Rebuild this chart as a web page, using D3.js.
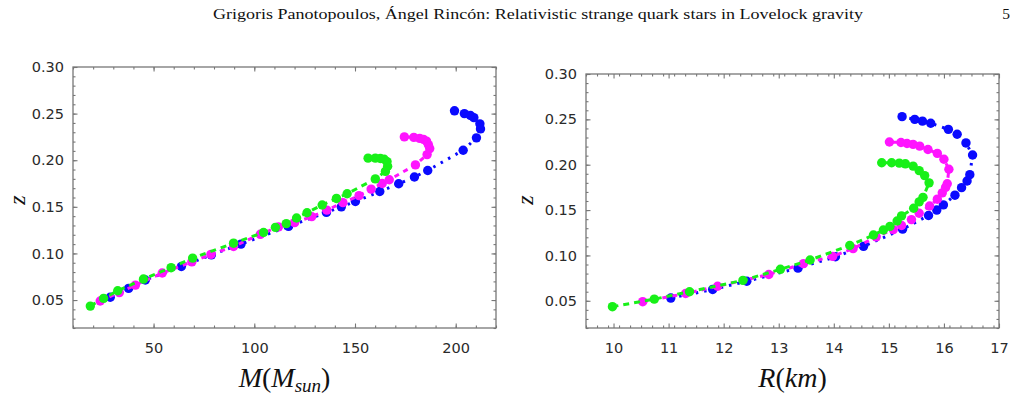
<!DOCTYPE html>
<html><head><meta charset="utf-8">
<script src="https://cdn.jsdelivr.net/npm/d3@7"></script>
<style>
html,body{margin:0;padding:0;background:#fff;}
svg{display:block;}
.tick text{font-family:"DejaVu Sans",sans-serif;font-size:14.5px;fill:#2a2a2a;}
</style></head>
<body>
<script>
// ---- data ----
const blueZ = [0.0530,0.0625,0.0715,0.0860,0.0985,0.1100,0.1290,0.1440,0.1500,0.1557,0.1664,0.1747,0.1820,0.1890,0.2107,0.2240,0.2336,0.2390,0.2457,0.2480,0.2500,0.2530];
const blueM = [28.5,37.6,45.9,63.8,78.7,93.4,117.0,135.8,143.2,150.2,162.3,171.7,179.5,186.1,203.7,210.3,212.3,212.0,209.0,207.3,204.3,199.4];
const blueR = [11.04,11.80,12.42,13.35,14.03,14.54,15.25,15.72,15.87,15.99,16.20,16.32,16.42,16.47,16.52,16.40,16.24,16.08,15.76,15.61,15.47,15.24];

const magentaZ = [0.0490,0.0580,0.0660,0.0790,0.0910,0.0990,0.1075,0.1205,0.1285,0.1330,0.1395,0.1465,0.1545,0.1620,0.1690,0.1750,0.1790,0.1950,0.2060,0.2125,0.2168,0.2205,0.2224,0.2234,0.2245,0.2250];
const magentaM = [23.5,33.0,41.0,54.3,69.0,78.5,89.7,103.0,112.0,120.0,128.5,136.0,144.0,152.0,158.0,163.5,167.0,180.0,185.8,187.1,186.4,185.5,184.0,182.1,179.2,174.5];
const magentaR = [10.53,11.31,11.89,12.82,13.45,13.98,14.35,14.77,15.08,15.23,15.41,15.55,15.74,15.88,15.97,16.03,16.06,16.09,16.00,15.88,15.71,15.56,15.44,15.33,15.22,15.01];

const greenZ = [0.0435,0.0518,0.0600,0.0725,0.0847,0.0950,0.1110,0.1225,0.1280,0.1320,0.1380,0.1436,0.1520,0.1590,0.1640,0.1800,0.1880,0.1935,0.1985,0.2010,0.2018,0.2022,0.2022];
const greenM = [18.6,25.2,32.2,45.0,58.7,69.4,89.7,104.6,110.5,115.9,121.0,126.2,133.7,140.8,146.1,160.1,165.1,166.2,165.9,164.5,162.6,160.1,156.5];
const greenR = [9.98,10.74,11.38,12.35,13.03,13.57,14.29,14.72,14.90,15.02,15.15,15.23,15.45,15.55,15.62,15.73,15.65,15.55,15.44,15.30,15.19,15.05,14.87];

const zTicks = [0.05,0.10,0.15,0.20,0.25,0.30];
const mTicks = [50,100,150,200];
const rTicks = [10,11,12,13,14,15,16,17];
const headerText = "Grigoris Panotopoulos, Ángel Rincón: Relativistic strange quark stars in Lovelock gravity";
const pageNumber = "5";

// ---- drawing ----
const svg = d3.select("body").append("svg").attr("width",1017).attr("height",409);

svg.append("text").attr("x",538).attr("y",19).attr("text-anchor","middle")
  .attr("font-family","Liberation Serif, serif").attr("font-size",15.5).attr("fill","#111")
  .attr("textLength",650).attr("lengthAdjust","spacingAndGlyphs").text(headerText);
svg.append("text").attr("x",1006).attr("y",19).attr("text-anchor","middle")
  .attr("font-family","Liberation Serif, serif").attr("font-size",15.5).attr("fill","#111").text(pageNumber);

const series = [
  {name:"blue", color:"#0a0aff", dash:"2.5,6"},
  {name:"magenta", color:"#ff14ff", dash:"5,5"},
  {name:"green", color:"#18f018", dash:"6,5"}
];
const dataZ = {blue:blueZ, magenta:magentaZ, green:greenZ};
const dataM = {blue:blueM, magenta:magentaM, green:greenM};
const dataR = {blue:blueR, magenta:magentaR, green:greenR};

function panel(opt){
  const g = svg.append("g");
  const x = d3.scaleLinear().domain(opt.xDomain).range([opt.left,opt.right]);
  const y = d3.scaleLinear().domain([0.02,0.30]).range([opt.bottom,opt.top]);
  const frameColor = "#777";
  const xMinor = d3.range(opt.xDomain[0], opt.xDomain[1]+1e-9, opt.xMinorStep).map(v=>+v.toFixed(4));
  const yMinor = d3.range(0.02,0.3001,0.01).map(v=>+v.toFixed(4));
  function styleAxis(sel){
    sel.selectAll("path").remove();
    sel.selectAll("line").attr("stroke",frameColor).attr("stroke-width",1.1);
  }
  g.append("g").attr("transform",`translate(0,${opt.bottom})`)
    .call(d3.axisBottom(x).tickValues(xMinor).tickSize(-2.5).tickFormat("")).call(styleAxis);
  g.append("g").attr("transform",`translate(0,${opt.top})`)
    .call(d3.axisTop(x).tickValues(xMinor).tickSize(-2.5).tickFormat("")).call(styleAxis);
  g.append("g").attr("transform",`translate(${opt.left},0)`)
    .call(d3.axisLeft(y).tickValues(yMinor).tickSize(-2.5).tickFormat("")).call(styleAxis);
  g.append("g").attr("transform",`translate(${opt.right},0)`)
    .call(d3.axisRight(y).tickValues(yMinor).tickSize(-2.5).tickFormat("")).call(styleAxis);
  g.append("g").attr("transform",`translate(0,${opt.bottom})`)
    .call(d3.axisBottom(x).tickValues(opt.xTicks).tickSize(-4.5).tickPadding(15).tickFormat(d3.format("d"))).call(styleAxis)
    .selectAll("text").attr("dy","0.71em");
  g.append("g").attr("transform",`translate(0,${opt.top})`)
    .call(d3.axisTop(x).tickValues(opt.xTicks).tickSize(-4.5).tickFormat("")).call(styleAxis);
  g.append("g").attr("transform",`translate(${opt.left},0)`)
    .call(d3.axisLeft(y).tickValues(zTicks).tickSize(-4.5).tickPadding(9).tickFormat(d3.format(".2f"))).call(styleAxis);
  g.append("g").attr("transform",`translate(${opt.right},0)`)
    .call(d3.axisRight(y).tickValues(zTicks).tickSize(-4.5).tickFormat("")).call(styleAxis);
  g.append("rect").attr("x",opt.left).attr("y",opt.top)
    .attr("width",opt.right-opt.left).attr("height",opt.bottom-opt.top)
    .attr("fill","none").attr("stroke",frameColor).attr("stroke-width",1.3);

  const clipId = "clip"+opt.id;
  svg.append("clipPath").attr("id",clipId).append("rect")
    .attr("x",opt.left).attr("y",opt.top).attr("width",opt.right-opt.left).attr("height",opt.bottom-opt.top);
  const plot = g.append("g").attr("clip-path",`url(#${clipId})`);
  series.forEach(s=>{
    const xs = opt.xData[s.name], zs = dataZ[s.name];
    const pts = zs.map((z,i)=>[xs[i],z]);
    const line = d3.line().x(d=>x(d[0])).y(d=>y(d[1]));
    plot.append("path").attr("d",line(pts)).attr("fill","none")
      .attr("stroke",s.color).attr("stroke-width",3).attr("stroke-dasharray",s.dash);
    plot.selectAll(null).data(pts).enter().append("circle")
      .attr("cx",d=>x(d[0])).attr("cy",d=>y(d[1])).attr("r",4.7).attr("fill",s.color);
  });

  const cx = (opt.left+opt.right)/2;
  const t = g.append("text").attr("x",cx).attr("y",387).attr("text-anchor","middle")
    .attr("font-family","Liberation Serif, serif").attr("font-size",28).attr("fill","#111");
  opt.title(t);
  g.append("text").attr("transform",`translate(${opt.zX},200) rotate(-90)`).attr("text-anchor","middle")
    .attr("font-family","Liberation Serif, serif").attr("font-style","italic").attr("font-size",24).attr("fill","#111")
    .text("z");
}

panel({id:1,left:73,right:496,top:67,bottom:328,xDomain:[10,220],xMinorStep:10,xTicks:mTicks,
  xData:dataM, zX:25,
  title:t=>{
    t.append("tspan").attr("font-style","italic").text("M");
    t.append("tspan").text("(");
    t.append("tspan").attr("font-style","italic").text("M");
    t.append("tspan").attr("font-style","italic").attr("font-size",19).attr("dy",5).text("sun");
    t.append("tspan").attr("dy",-5).text(")");
  }});
panel({id:2,left:586,right:999,top:74,bottom:328,xDomain:[9.5,17],xMinorStep:0.2,xTicks:rTicks,
  xData:dataR, zX:533,
  title:t=>{
    t.append("tspan").attr("font-style","italic").text("R");
    t.append("tspan").text("(");
    t.append("tspan").attr("font-style","italic").text("km");
    t.append("tspan").text(")");
  }});
</script>
</body></html>
